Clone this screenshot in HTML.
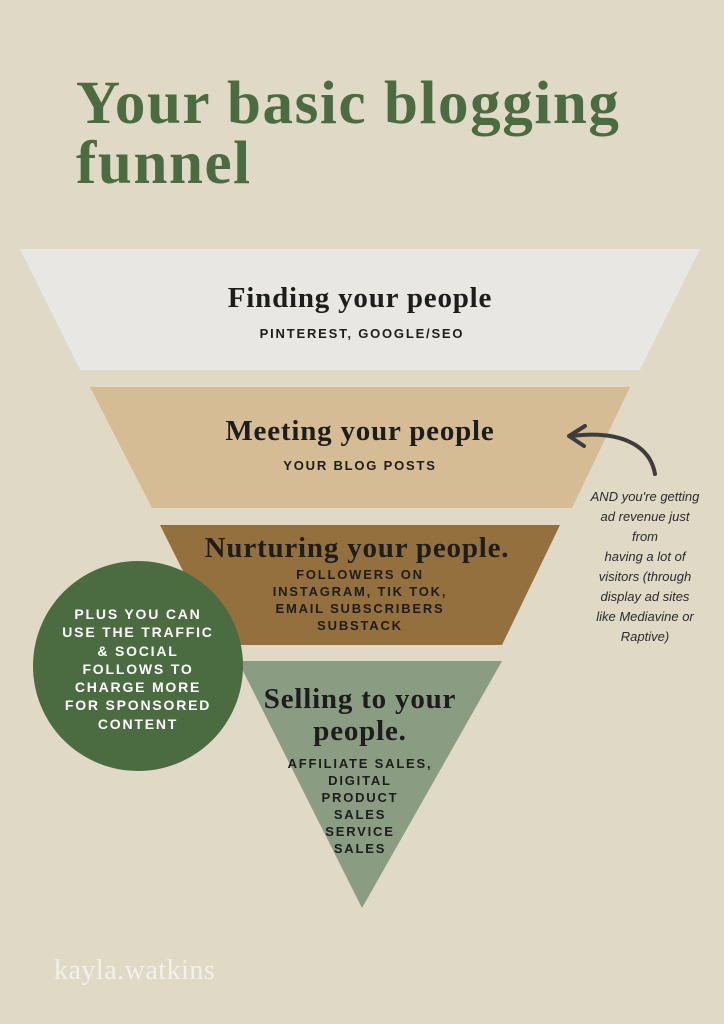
<!DOCTYPE html>
<html><head><style>
body{margin:0;width:724px;height:1024px;background:#dfd9c5;position:relative;overflow:hidden;font-family:"Liberation Sans",sans-serif}
.a{position:absolute;text-align:center}
.h{font-family:"Liberation Serif",serif;font-weight:bold;color:#1d1d1b;font-size:29px;letter-spacing:0.8px}
.s{font-weight:bold;letter-spacing:1.8px;font-size:13px;color:#1d1d1b;line-height:17px}
</style></head><body>
<div class="a" style="left:76px;top:74px;text-align:left;font-family:'Liberation Serif',serif;font-weight:bold;font-size:61px;line-height:60px;letter-spacing:1.6px;color:#4b6b41">Your basic blogging<br>funnel</div>
<svg width="724" height="1024" style="position:absolute;left:0;top:0">
<polygon points="20,249 700,249 640,370 80,370" fill="#e8e7e4"/>
<polygon points="90,387 630,387 572,508 152,508" fill="#d5bc94"/>
<polygon points="160,525 560,525 502,645 220,645" fill="#94703f"/>
<polygon points="238,661 502,661 362,908" fill="#8a9c82"/>
<circle cx="138" cy="666" r="105" fill="#4b6b41"/>
<path d="M655,474 C650,445 620,430 572,436" stroke="#3d3d3d" stroke-width="4" fill="none" stroke-linecap="round"/>
<path d="M585,426 L569,436 L584,446" stroke="#3d3d3d" stroke-width="4" fill="none" stroke-linecap="round" stroke-linejoin="round"/>
</svg>
<div class="a h" style="left:0;width:720px;top:282px">Finding your people</div>
<div class="a s" style="left:0;width:724px;top:325px">PINTEREST, GOOGLE/SEO</div>
<div class="a h" style="left:0;width:720px;top:415px">Meeting your people</div>
<div class="a s" style="left:0;width:720px;top:457px">YOUR BLOG POSTS</div>
<div class="a h" style="left:0;width:714px;top:532px">Nurturing your people.</div>
<div class="a s" style="left:0;width:720px;top:566px">FOLLOWERS ON<br>INSTAGRAM, TIK TOK,<br>EMAIL SUBSCRIBERS<br>SUBSTACK</div>
<div class="a h" style="left:220px;width:280px;top:683px;line-height:32px">Selling to your<br>people.</div>
<div class="a s" style="left:240px;width:240px;top:755px">AFFILIATE SALES,<br>DIGITAL<br>PRODUCT<br>SALES<br>SERVICE<br>SALES</div>
<div class="a s" style="left:38px;width:200px;top:605px;color:#fff;font-size:14px;line-height:18.3px">PLUS YOU CAN<br>USE THE TRAFFIC<br>&amp; SOCIAL<br>FOLLOWS TO<br>CHARGE MORE<br>FOR SPONSORED<br>CONTENT</div>
<div class="a" style="left:570px;width:150px;top:487px;font-style:italic;font-size:13px;line-height:20px;color:#2b2b2b">AND you're getting<br>ad revenue just<br>from<br>having a lot of<br>visitors (through<br>display ad sites<br>like Mediavine or<br>Raptive)</div>
<div class="a" style="left:54px;top:955px;font-family:'Liberation Serif',serif;font-size:28px;color:#f4f1ea;letter-spacing:0.5px">kayla.watkins</div>
</body></html>
